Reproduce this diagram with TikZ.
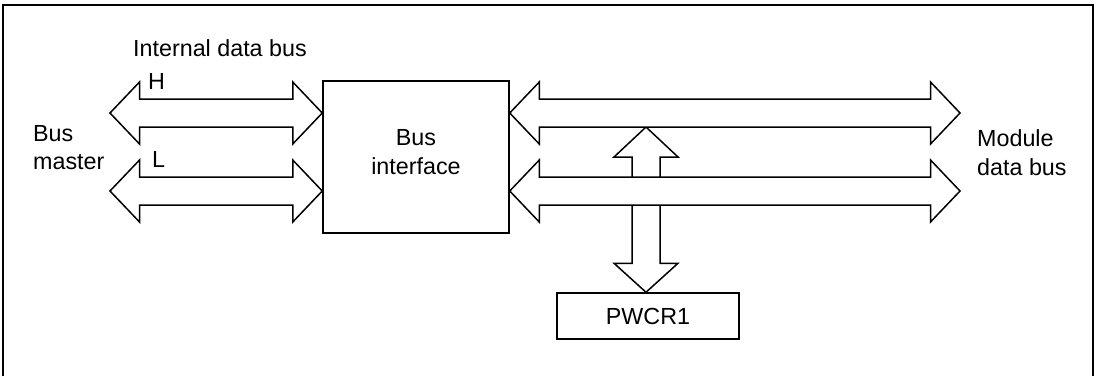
\documentclass[tikz,border=0pt]{standalone}
\usepackage{fontspec}
\setmainfont{Liberation Sans}
\usetikzlibrary{calc}
\tikzset{
  busline/.style={draw=black, fill=white, line width=1.5pt, line join=miter},
  boxstyle/.style={draw=black, fill=white, line width=1.5pt, inner sep=0pt},
  lbl/.style={inner sep=0pt, font=\fontsize{23.3}{28.5}\selectfont},
  frameline/.style={draw=black, line width=2pt},
}
% horizontal double-headed bus arrow between two named tips
\newcommand\hbusarrow[2]{%
  \draw[busline] (#1) -- ($(#1)+(29.5,-31)$) -- ($(#1)+(29.5,-14)$)
    -- ($(#2)+(-29.5,-14)$) -- ($(#2)+(-29.5,-31)$) -- (#2)
    -- ($(#2)+(-29.5,31)$) -- ($(#2)+(-29.5,14)$)
    -- ($(#1)+(29.5,14)$) -- ($(#1)+(29.5,31)$) -- cycle;}
% vertical double-headed bus arrow between two named tips
\newcommand\vbusarrow[2]{%
  \draw[busline] (#1) -- ($(#1)+(32,30)$) -- ($(#1)+(14,30)$)
    -- ($(#2)+(14,-29)$) -- ($(#2)+(32,-29)$) -- (#2)
    -- ($(#2)+(-32,-29)$) -- ($(#2)+(-14,-29)$)
    -- ($(#1)+(-14,30)$) -- ($(#1)+(-32,30)$) -- cycle;}
\begin{document}
\begin{tikzpicture}[x=1pt, y=-1pt]
\useasboundingbox (0,0) rectangle (1099,376);
% outer frame (bottom edge not visible)
\draw[frameline] (3,376) -- (3,5) -- (1093,5) -- (1093,376);

% boxes
\node[boxstyle, minimum width=186pt, minimum height=152pt] (bi) at (416,157) {};
\node[lbl, align=center] (bitxt) at (416,152) {Bus\\interface};
\node[boxstyle, minimum width=182pt, minimum height=46pt, font=\fontsize{23.3}{28.5}\selectfont] (pw) at (648,316) {PWCR1};

% tips
\coordinate (bmH) at (110,113);
\coordinate (bmL) at (110,191);
\coordinate (biWH) at (bi.west |- bmH);
\coordinate (biWL) at (bi.west |- bmL);
\coordinate (biEH) at (bi.east |- bmH);
\coordinate (biEL) at (bi.east |- bmL);
\coordinate (mdH) at (960,113);
\coordinate (mdL) at (960,191);
\coordinate (vt) at (646,127);
\coordinate (vb) at (vt |- pw.north);

% vertical bus to PWCR1 (behind the module data bus)
\vbusarrow{vt}{vb}

% internal data bus (H and L)
\hbusarrow{bmH}{biWH}
\hbusarrow{bmL}{biWL}
% module data bus
\hbusarrow{biEH}{mdH}
\hbusarrow{biEL}{mdL}

% labels
\node[lbl, anchor=base west] (idb) at (133,56) {Internal data bus};
\node[lbl, anchor=base west] (hl) at (148,89) {H};
\node[lbl, anchor=base west] (ll) at (152,167) {L};
\node[lbl, anchor=west, align=left] (bm) at (33,147.5) {Bus\\master};
\node[lbl, anchor=west, align=left] (md) at (977,152.5) {Module\\data bus};
\end{tikzpicture}
\end{document}
